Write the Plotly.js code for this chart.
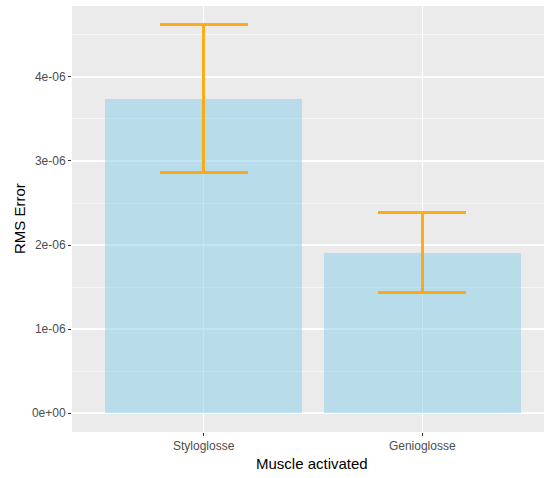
<!DOCTYPE html>
<html>
<head>
<meta charset="utf-8">
<script src="https://cdn.plot.ly/plotly-3.0.1.min.js"></script>
<style>
  html, body { margin: 0; padding: 0; background: #ffffff; }
  #chart { width: 544px; height: 478px; }
</style>
</head>
<body>
<div id="chart"></div>
<script>
// Muscle groups and their mean RMS error with spread
const muscles = ["Styloglosse", "Genioglosse"];
const rmsMean = [3.74e-6, 1.91e-6];
const rmsSpread = [0.88e-6, 0.48e-6];

// Y axis ticks in R-style scientific notation
const yTickVals = [0, 1e-6, 2e-6, 3e-6, 4e-6];
const yTickText = ["0e+00", "1e-06", "2e-06", "3e-06", "4e-06"];

const tickFont = { family: "Liberation Sans, Arial, sans-serif", size: 12, color: "#4d4d4d" };
const titleFont = { family: "Liberation Sans, Arial, sans-serif", size: 15, color: "#000000" };

const trace = {
  type: "bar",
  x: muscles,
  y: rmsMean,
  width: 0.9,
  marker: { color: "rgba(135,206,235,0.5)", line: { width: 0 } },
  error_y: {
    type: "data",
    array: rmsSpread,
    visible: true,
    color: "rgba(255,165,0,0.9)",
    thickness: 3,
    width: 44
  },
  hoverinfo: "none"
};

const layout = {
  width: 544,
  height: 478,
  margin: { l: 72, r: 0, t: 6, b: 46, pad: 0 },
  paper_bgcolor: "#ffffff",
  plot_bgcolor: "#ebebeb",
  showlegend: false,
  bargap: 0,
  xaxis: {
    type: "category",
    range: [-0.6025, 1.557],
    showgrid: true,
    gridcolor: "#ffffff",
    gridwidth: 1.1,
    zeroline: false,
    showline: false,
    ticks: "outside",
    ticklen: 3,
    tickwidth: 1,
    tickcolor: "#333333",
    tickfont: tickFont,
    fixedrange: true
  },
  yaxis: {
    range: [-0.226e-6, 4.845e-6],
    tickmode: "array",
    tickvals: yTickVals,
    ticktext: yTickText,
    showgrid: true,
    gridcolor: "#ffffff",
    gridwidth: 1.1,
    zeroline: false,
    showline: false,
    ticks: "outside",
    ticklen: 3,
    tickwidth: 1,
    tickcolor: "#333333",
    tickfont: tickFont,
    minor: {
      tickmode: "linear",
      tick0: 0.5e-6,
      dtick: 1e-6,
      showgrid: true,
      gridcolor: "#ffffff",
      gridwidth: 0.55,
      ticks: ""
    },
    fixedrange: true
  },
  annotations: [
    {
      text: "RMS Error",
      xref: "paper", yref: "paper",
      x: -(72 - 19) / 472, y: 0.5,
      xanchor: "center", yanchor: "middle",
      textangle: -90,
      showarrow: false,
      font: titleFont
    },
    {
      text: "Muscle activated",
      xref: "paper", yref: "paper",
      x: (312 - 72) / 472, y: -(463 - 432) / 426,
      xanchor: "center", yanchor: "middle",
      showarrow: false,
      font: titleFont
    }
  ]
};

Plotly.newPlot("chart", [trace], layout, { displayModeBar: false, staticPlot: true });
</script>
</body>
</html>
